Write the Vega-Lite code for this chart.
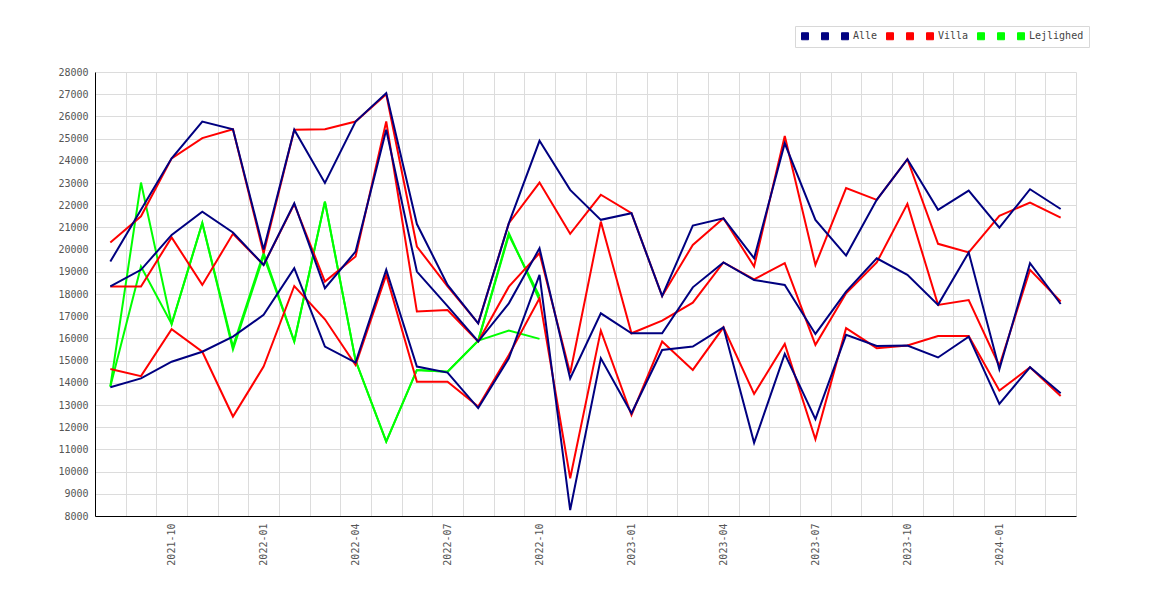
{
  "$schema": "https://vega.github.io/schema/vega-lite/v6.json",
  "width": 981,
  "height": 444,
  "autosize": {"type": "none"},
  "padding": {"left": 95, "top": 72, "right": 94, "bottom": 84},
  "background": "white",
  "config": {
    "view": {"stroke": null},
    "font": "DejaVu Sans Mono"
  },
  "data": {
    "values": [
      {"maaned": "2021-08", "serie": "Lejlighed_1", "pris": 13830},
      {"maaned": "2021-09", "serie": "Lejlighed_1", "pris": 23020},
      {"maaned": "2021-10", "serie": "Lejlighed_1", "pris": 16650},
      {"maaned": "2021-11", "serie": "Lejlighed_1", "pris": 21200},
      {"maaned": "2021-12", "serie": "Lejlighed_1", "pris": 15630},
      {"maaned": "2022-01", "serie": "Lejlighed_1", "pris": 19850},
      {"maaned": "2022-02", "serie": "Lejlighed_1", "pris": 15860},
      {"maaned": "2022-03", "serie": "Lejlighed_1", "pris": 22160},
      {"maaned": "2022-04", "serie": "Lejlighed_1", "pris": 15000},
      {"maaned": "2022-05", "serie": "Lejlighed_1", "pris": 11350},
      {"maaned": "2022-06", "serie": "Lejlighed_1", "pris": 14580},
      {"maaned": "2022-07", "serie": "Lejlighed_1", "pris": 14500},
      {"maaned": "2022-08", "serie": "Lejlighed_1", "pris": 15900},
      {"maaned": "2022-09", "serie": "Lejlighed_1", "pris": 20740},
      {"maaned": "2022-10", "serie": "Lejlighed_1", "pris": 17730},

      {"maaned": "2021-08", "serie": "Lejlighed_2", "pris": 13830},
      {"maaned": "2021-09", "serie": "Lejlighed_2", "pris": 19240},
      {"maaned": "2021-10", "serie": "Lejlighed_2", "pris": 16650},
      {"maaned": "2021-11", "serie": "Lejlighed_2", "pris": 21200},
      {"maaned": "2021-12", "serie": "Lejlighed_2", "pris": 15500},
      {"maaned": "2022-01", "serie": "Lejlighed_2", "pris": 19720},
      {"maaned": "2022-02", "serie": "Lejlighed_2", "pris": 15860},
      {"maaned": "2022-03", "serie": "Lejlighed_2", "pris": 22160},
      {"maaned": "2022-04", "serie": "Lejlighed_2", "pris": 15000},
      {"maaned": "2022-05", "serie": "Lejlighed_2", "pris": 11350},
      {"maaned": "2022-06", "serie": "Lejlighed_2", "pris": 14580},
      {"maaned": "2022-07", "serie": "Lejlighed_2", "pris": 14500},
      {"maaned": "2022-08", "serie": "Lejlighed_2", "pris": 15900},
      {"maaned": "2022-09", "serie": "Lejlighed_2", "pris": 20650},
      {"maaned": "2022-10", "serie": "Lejlighed_2", "pris": 17900},

      {"maaned": "2022-08", "serie": "Lejlighed", "pris": 15900},
      {"maaned": "2022-09", "serie": "Lejlighed", "pris": 16350},
      {"maaned": "2022-10", "serie": "Lejlighed", "pris": 15980},

      {"maaned": "2021-08", "serie": "Villa_1", "pris": 20320},
      {"maaned": "2021-09", "serie": "Villa_1", "pris": 21500},
      {"maaned": "2021-10", "serie": "Villa_1", "pris": 24110},
      {"maaned": "2021-11", "serie": "Villa_1", "pris": 25020},
      {"maaned": "2021-12", "serie": "Villa_1", "pris": 25420},
      {"maaned": "2022-01", "serie": "Villa_1", "pris": 19840},
      {"maaned": "2022-02", "serie": "Villa_1", "pris": 25400},
      {"maaned": "2022-03", "serie": "Villa_1", "pris": 25420},
      {"maaned": "2022-04", "serie": "Villa_1", "pris": 25770},
      {"maaned": "2022-05", "serie": "Villa_1", "pris": 27000},
      {"maaned": "2022-06", "serie": "Villa_1", "pris": 20140},
      {"maaned": "2022-07", "serie": "Villa_1", "pris": 18340},
      {"maaned": "2022-08", "serie": "Villa_1", "pris": 16680},
      {"maaned": "2022-09", "serie": "Villa_1", "pris": 21190},
      {"maaned": "2022-10", "serie": "Villa_1", "pris": 23020},
      {"maaned": "2022-11", "serie": "Villa_1", "pris": 20710},
      {"maaned": "2022-12", "serie": "Villa_1", "pris": 22470},
      {"maaned": "2023-01", "serie": "Villa_1", "pris": 21640},
      {"maaned": "2023-02", "serie": "Villa_1", "pris": 17910},
      {"maaned": "2023-03", "serie": "Villa_1", "pris": 20210},
      {"maaned": "2023-04", "serie": "Villa_1", "pris": 21410},
      {"maaned": "2023-05", "serie": "Villa_1", "pris": 19240},
      {"maaned": "2023-06", "serie": "Villa_1", "pris": 25120},
      {"maaned": "2023-07", "serie": "Villa_1", "pris": 19310},
      {"maaned": "2023-08", "serie": "Villa_1", "pris": 22770},
      {"maaned": "2023-09", "serie": "Villa_1", "pris": 22240},
      {"maaned": "2023-10", "serie": "Villa_1", "pris": 24070},
      {"maaned": "2023-11", "serie": "Villa_1", "pris": 20260},
      {"maaned": "2023-12", "serie": "Villa_1", "pris": 19870},
      {"maaned": "2024-01", "serie": "Villa_1", "pris": 21520},
      {"maaned": "2024-02", "serie": "Villa_1", "pris": 22120},
      {"maaned": "2024-03", "serie": "Villa_1", "pris": 21440},

      {"maaned": "2021-08", "serie": "Villa_2", "pris": 18340},
      {"maaned": "2021-09", "serie": "Villa_2", "pris": 18340},
      {"maaned": "2021-10", "serie": "Villa_2", "pris": 20550},
      {"maaned": "2021-11", "serie": "Villa_2", "pris": 18410},
      {"maaned": "2021-12", "serie": "Villa_2", "pris": 20710},
      {"maaned": "2022-01", "serie": "Villa_2", "pris": 19310},
      {"maaned": "2022-02", "serie": "Villa_2", "pris": 22050},
      {"maaned": "2022-03", "serie": "Villa_2", "pris": 18560},
      {"maaned": "2022-04", "serie": "Villa_2", "pris": 19690},
      {"maaned": "2022-05", "serie": "Villa_2", "pris": 25770},
      {"maaned": "2022-06", "serie": "Villa_2", "pris": 17210},
      {"maaned": "2022-07", "serie": "Villa_2", "pris": 17280},
      {"maaned": "2022-08", "serie": "Villa_2", "pris": 15860},
      {"maaned": "2022-09", "serie": "Villa_2", "pris": 18330},
      {"maaned": "2022-10", "serie": "Villa_2", "pris": 19840},
      {"maaned": "2022-11", "serie": "Villa_2", "pris": 14430},
      {"maaned": "2022-12", "serie": "Villa_2", "pris": 21260},
      {"maaned": "2023-01", "serie": "Villa_2", "pris": 16230},
      {"maaned": "2023-02", "serie": "Villa_2", "pris": 16800},
      {"maaned": "2023-03", "serie": "Villa_2", "pris": 17610},
      {"maaned": "2023-04", "serie": "Villa_2", "pris": 19420},
      {"maaned": "2023-05", "serie": "Villa_2", "pris": 18660},
      {"maaned": "2023-06", "serie": "Villa_2", "pris": 19390},
      {"maaned": "2023-07", "serie": "Villa_2", "pris": 15710},
      {"maaned": "2023-08", "serie": "Villa_2", "pris": 18030},
      {"maaned": "2023-09", "serie": "Villa_2", "pris": 19420},
      {"maaned": "2023-10", "serie": "Villa_2", "pris": 22060},
      {"maaned": "2023-11", "serie": "Villa_2", "pris": 17510},
      {"maaned": "2023-12", "serie": "Villa_2", "pris": 17730},
      {"maaned": "2024-01", "serie": "Villa_2", "pris": 14760},
      {"maaned": "2024-02", "serie": "Villa_2", "pris": 19090},
      {"maaned": "2024-03", "serie": "Villa_2", "pris": 17660},

      {"maaned": "2021-08", "serie": "Villa", "pris": 14620},
      {"maaned": "2021-09", "serie": "Villa", "pris": 14300},
      {"maaned": "2021-10", "serie": "Villa", "pris": 16410},
      {"maaned": "2021-11", "serie": "Villa", "pris": 15400},
      {"maaned": "2021-12", "serie": "Villa", "pris": 12480},
      {"maaned": "2022-01", "serie": "Villa", "pris": 14730},
      {"maaned": "2022-02", "serie": "Villa", "pris": 18360},
      {"maaned": "2022-03", "serie": "Villa", "pris": 16860},
      {"maaned": "2022-04", "serie": "Villa", "pris": 14800},
      {"maaned": "2022-05", "serie": "Villa", "pris": 18860},
      {"maaned": "2022-06", "serie": "Villa", "pris": 14050},
      {"maaned": "2022-07", "serie": "Villa", "pris": 14050},
      {"maaned": "2022-08", "serie": "Villa", "pris": 12930},
      {"maaned": "2022-09", "serie": "Villa", "pris": 15250},
      {"maaned": "2022-10", "serie": "Villa", "pris": 17810},
      {"maaned": "2022-11", "serie": "Villa", "pris": 9700},
      {"maaned": "2022-12", "serie": "Villa", "pris": 16350},
      {"maaned": "2023-01", "serie": "Villa", "pris": 12550},
      {"maaned": "2023-02", "serie": "Villa", "pris": 15860},
      {"maaned": "2023-03", "serie": "Villa", "pris": 14580},
      {"maaned": "2023-04", "serie": "Villa", "pris": 16500},
      {"maaned": "2023-05", "serie": "Villa", "pris": 13500},
      {"maaned": "2023-06", "serie": "Villa", "pris": 15750},
      {"maaned": "2023-07", "serie": "Villa", "pris": 11460},
      {"maaned": "2023-08", "serie": "Villa", "pris": 16460},
      {"maaned": "2023-09", "serie": "Villa", "pris": 15560},
      {"maaned": "2023-10", "serie": "Villa", "pris": 15680},
      {"maaned": "2023-11", "serie": "Villa", "pris": 16110},
      {"maaned": "2023-12", "serie": "Villa", "pris": 16110},
      {"maaned": "2024-01", "serie": "Villa", "pris": 13650},
      {"maaned": "2024-02", "serie": "Villa", "pris": 14700},
      {"maaned": "2024-03", "serie": "Villa", "pris": 13410},

      {"maaned": "2021-08", "serie": "Alle_1", "pris": 19460},
      {"maaned": "2021-09", "serie": "Alle_1", "pris": 21800},
      {"maaned": "2021-10", "serie": "Alle_1", "pris": 24110},
      {"maaned": "2021-11", "serie": "Alle_1", "pris": 25770},
      {"maaned": "2021-12", "serie": "Alle_1", "pris": 25420},
      {"maaned": "2022-01", "serie": "Alle_1", "pris": 20000},
      {"maaned": "2022-02", "serie": "Alle_1", "pris": 25400},
      {"maaned": "2022-03", "serie": "Alle_1", "pris": 23000},
      {"maaned": "2022-04", "serie": "Alle_1", "pris": 25770},
      {"maaned": "2022-05", "serie": "Alle_1", "pris": 27050},
      {"maaned": "2022-06", "serie": "Alle_1", "pris": 21150},
      {"maaned": "2022-07", "serie": "Alle_1", "pris": 18410},
      {"maaned": "2022-08", "serie": "Alle_1", "pris": 16680},
      {"maaned": "2022-09", "serie": "Alle_1", "pris": 21190},
      {"maaned": "2022-10", "serie": "Alle_1", "pris": 24900},
      {"maaned": "2022-11", "serie": "Alle_1", "pris": 22690},
      {"maaned": "2022-12", "serie": "Alle_1", "pris": 21340},
      {"maaned": "2023-01", "serie": "Alle_1", "pris": 21640},
      {"maaned": "2023-02", "serie": "Alle_1", "pris": 17910},
      {"maaned": "2023-03", "serie": "Alle_1", "pris": 21080},
      {"maaned": "2023-04", "serie": "Alle_1", "pris": 21410},
      {"maaned": "2023-05", "serie": "Alle_1", "pris": 19610},
      {"maaned": "2023-06", "serie": "Alle_1", "pris": 24790},
      {"maaned": "2023-07", "serie": "Alle_1", "pris": 21340},
      {"maaned": "2023-08", "serie": "Alle_1", "pris": 19730},
      {"maaned": "2023-09", "serie": "Alle_1", "pris": 22240},
      {"maaned": "2023-10", "serie": "Alle_1", "pris": 24070},
      {"maaned": "2023-11", "serie": "Alle_1", "pris": 21790},
      {"maaned": "2023-12", "serie": "Alle_1", "pris": 22660},
      {"maaned": "2024-01", "serie": "Alle_1", "pris": 20990},
      {"maaned": "2024-02", "serie": "Alle_1", "pris": 22720},
      {"maaned": "2024-03", "serie": "Alle_1", "pris": 21830},

      {"maaned": "2021-08", "serie": "Alle_2", "pris": 18340},
      {"maaned": "2021-09", "serie": "Alle_2", "pris": 19090},
      {"maaned": "2021-10", "serie": "Alle_2", "pris": 20660},
      {"maaned": "2021-11", "serie": "Alle_2", "pris": 21710},
      {"maaned": "2021-12", "serie": "Alle_2", "pris": 20770},
      {"maaned": "2022-01", "serie": "Alle_2", "pris": 19310},
      {"maaned": "2022-02", "serie": "Alle_2", "pris": 22090},
      {"maaned": "2022-03", "serie": "Alle_2", "pris": 18260},
      {"maaned": "2022-04", "serie": "Alle_2", "pris": 19910},
      {"maaned": "2022-05", "serie": "Alle_2", "pris": 25400},
      {"maaned": "2022-06", "serie": "Alle_2", "pris": 19010},
      {"maaned": "2022-07", "serie": "Alle_2", "pris": 17450},
      {"maaned": "2022-08", "serie": "Alle_2", "pris": 15860},
      {"maaned": "2022-09", "serie": "Alle_2", "pris": 17580},
      {"maaned": "2022-10", "serie": "Alle_2", "pris": 20060},
      {"maaned": "2022-11", "serie": "Alle_2", "pris": 14200},
      {"maaned": "2022-12", "serie": "Alle_2", "pris": 17130},
      {"maaned": "2023-01", "serie": "Alle_2", "pris": 16230},
      {"maaned": "2023-02", "serie": "Alle_2", "pris": 16230},
      {"maaned": "2023-03", "serie": "Alle_2", "pris": 18300},
      {"maaned": "2023-04", "serie": "Alle_2", "pris": 19420},
      {"maaned": "2023-05", "serie": "Alle_2", "pris": 18630},
      {"maaned": "2023-06", "serie": "Alle_2", "pris": 18410},
      {"maaned": "2023-07", "serie": "Alle_2", "pris": 16200},
      {"maaned": "2023-08", "serie": "Alle_2", "pris": 18110},
      {"maaned": "2023-09", "serie": "Alle_2", "pris": 19610},
      {"maaned": "2023-10", "serie": "Alle_2", "pris": 18860},
      {"maaned": "2023-11", "serie": "Alle_2", "pris": 17510},
      {"maaned": "2023-12", "serie": "Alle_2", "pris": 19870},
      {"maaned": "2024-01", "serie": "Alle_2", "pris": 14610},
      {"maaned": "2024-02", "serie": "Alle_2", "pris": 19390},
      {"maaned": "2024-03", "serie": "Alle_2", "pris": 17550},

      {"maaned": "2021-08", "serie": "Alle", "pris": 13800},
      {"maaned": "2021-09", "serie": "Alle", "pris": 14200},
      {"maaned": "2021-10", "serie": "Alle", "pris": 14950},
      {"maaned": "2021-11", "serie": "Alle", "pris": 15400},
      {"maaned": "2021-12", "serie": "Alle", "pris": 16080},
      {"maaned": "2022-01", "serie": "Alle", "pris": 17060},
      {"maaned": "2022-02", "serie": "Alle", "pris": 19160},
      {"maaned": "2022-03", "serie": "Alle", "pris": 15630},
      {"maaned": "2022-04", "serie": "Alle", "pris": 14910},
      {"maaned": "2022-05", "serie": "Alle", "pris": 19090},
      {"maaned": "2022-06", "serie": "Alle", "pris": 14730},
      {"maaned": "2022-07", "serie": "Alle", "pris": 14460},
      {"maaned": "2022-08", "serie": "Alle", "pris": 12860},
      {"maaned": "2022-09", "serie": "Alle", "pris": 15100},
      {"maaned": "2022-10", "serie": "Alle", "pris": 18860},
      {"maaned": "2022-11", "serie": "Alle", "pris": 8270},
      {"maaned": "2022-12", "serie": "Alle", "pris": 15100},
      {"maaned": "2023-01", "serie": "Alle", "pris": 12630},
      {"maaned": "2023-02", "serie": "Alle", "pris": 15480},
      {"maaned": "2023-03", "serie": "Alle", "pris": 15630},
      {"maaned": "2023-04", "serie": "Alle", "pris": 16500},
      {"maaned": "2023-05", "serie": "Alle", "pris": 11300},
      {"maaned": "2023-06", "serie": "Alle", "pris": 15300},
      {"maaned": "2023-07", "serie": "Alle", "pris": 12360},
      {"maaned": "2023-08", "serie": "Alle", "pris": 16160},
      {"maaned": "2023-09", "serie": "Alle", "pris": 15660},
      {"maaned": "2023-10", "serie": "Alle", "pris": 15680},
      {"maaned": "2023-11", "serie": "Alle", "pris": 15140},
      {"maaned": "2023-12", "serie": "Alle", "pris": 16080},
      {"maaned": "2024-01", "serie": "Alle", "pris": 13050},
      {"maaned": "2024-02", "serie": "Alle", "pris": 14700},
      {"maaned": "2024-03", "serie": "Alle", "pris": 13530}
    ]
  },
  "mark": {"type": "line", "strokeWidth": 2},
  "encoding": {
    "x": {
      "field": "maaned",
      "type": "ordinal",
      "bandPosition": 0.5,
      "scale": {"type": "band", "paddingInner": 0, "paddingOuter": 0},
      "axis": {
        "title": null,
        "ticks": false,
        "grid": true,
        "gridColor": "#dcdcdc",
        "tickBand": "extent",
        "domainColor": "black",
        "labelAngle": 270,
        "labelAlign": "right",
        "labelBaseline": "middle",
        "labelPadding": 7,
        "labelFont": "DejaVu Sans Mono",
        "labelFontSize": 10,
        "labelColor": "#555555",
        "labelOverlap": false,
        "labelExpr": "indexof(['01','04','07','10'], substring(datum.label, 5, 7)) >= 0 ? datum.label : ''"
      }
    },
    "y": {
      "field": "pris",
      "type": "quantitative",
      "scale": {"domain": [8000, 28000], "nice": false, "zero": false},
      "axis": {
        "title": null,
        "ticks": false,
        "grid": true,
        "gridColor": "#dcdcdc",
        "domainColor": "black",
        "values": [8000, 9000, 10000, 11000, 12000, 13000, 14000, 15000, 16000, 17000, 18000, 19000, 20000, 21000, 22000, 23000, 24000, 25000, 26000, 27000, 28000],
        "format": "d",
        "labelPadding": 7,
        "labelFont": "DejaVu Sans Mono",
        "labelFontSize": 10,
        "labelColor": "#555555"
      }
    },
    "color": {
      "field": "serie",
      "type": "nominal",
      "scale": {
        "domain": ["Alle_1", "Alle_2", "Alle", "Villa_1", "Villa_2", "Villa", "Lejlighed_1", "Lejlighed_2", "Lejlighed"],
        "range": ["#000080", "#000080", "#000080", "#ff0000", "#ff0000", "#ff0000", "#00ff00", "#00ff00", "#00ff00"]
      },
      "legend": {
        "title": null,
        "orient": "none",
        "legendX": 700,
        "legendY": -46,
        "direction": "horizontal",
        "columns": 9,
        "symbolType": "square",
        "symbolSize": 49,
        "symbolStrokeWidth": 1,
        "labelOffset": 3,
        "columnPadding": 6,
        "padding": 5,
        "strokeColor": "#d8d8d8",
        "fillColor": "white",
        "labelFont": "DejaVu Sans Mono",
        "labelFontSize": 10,
        "labelColor": "#444444",
        "labelExpr": "indexof(datum.label, '_') >= 0 ? ' ' : datum.label",
        "encode": {
          "symbols": {
            "update": {
              "fill": {"scale": "color", "field": "value"},
              "fillOpacity": {"value": 1},
              "stroke": {"value": "#555555"}
            }
          }
        }
      }
    }
  }
}
